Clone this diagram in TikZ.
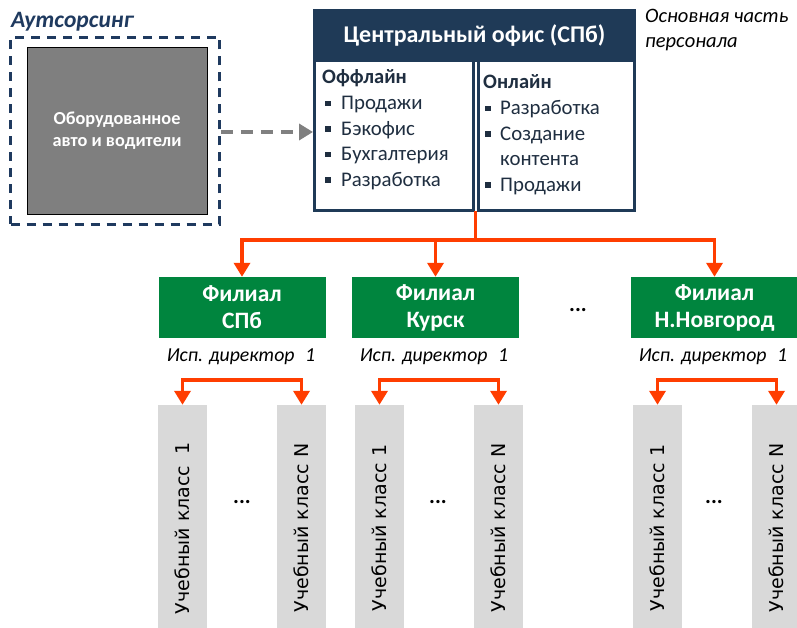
\documentclass[tikz,border=0pt]{standalone}
\usepackage{fontspec}
\setmainfont{Carlito}
\newfontfamily\dvsfont{DejaVu Sans}
\usetikzlibrary{arrows.meta,calc}
\definecolor{navy}{HTML}{1F3A57}
\definecolor{txtnavy}{HTML}{1F2E40}
\definecolor{ttlnavy}{HTML}{1F3A5F}
\definecolor{orgred}{HTML}{FF3D00}
\definecolor{brgreen}{HTML}{00853E}
\definecolor{midgray}{HTML}{7F7F7F}
\definecolor{ltgray}{HTML}{D9D9D9}
\definecolor{arrgray}{HTML}{808080}
\newcommand{\fsz}[2]{\fontsize{#1}{#2}\selectfont}
\begin{document}
\begin{tikzpicture}[x=1pt,y=-1pt,
  outbox/.style={draw=ttlnavy,line width=2.5pt,dash pattern=on 9pt off 7pt,inner sep=0pt},
  carbox/.style={draw=black,line width=0.6pt,fill=midgray,inner sep=0pt,text=white,align=center,font=\bfseries\fsz{18.3}{22}},
  hdr/.style={fill=navy,inner sep=0pt,text=white,font=\bfseries\fsz{24}{28}},
  subbox/.style={draw=navy,line width=3pt,fill=white,inner sep=0pt},
  cat/.style={anchor=base west,inner sep=0pt,text=txtnavy,font=\bfseries\fsz{20.5}{24}},
  itm/.style={anchor=base west,inner sep=0pt,text=txtnavy,font=\fsz{20.8}{24}},
  bulsq/.style={fill=txtnavy,inner sep=0pt,minimum size=5.5pt},
  note/.style={inner sep=0pt,font=\itshape\fsz{20.5}{25.5},align=left},
  filial/.style={fill=brgreen,inner sep=0pt,text=white,align=center,minimum width=167pt,minimum height=61pt,font=\bfseries\fsz{23.5}{27}},
  dirlbl/.style={inner sep=0pt,font=\itshape\fsz{19.8}{22}},
  cls/.style={fill=ltgray,inner sep=0pt,minimum width=49pt,minimum height=223pt},
  clstxt/.style={inner sep=0pt,rotate=90,font=\dvsfont\fsz{19}{22}},
  dots/.style={inner sep=0pt,font=\bfseries\fsz{22}{26}},
  redline/.style={draw=orgred,line width=3.5pt,line join=miter},
  redarrow/.style={redline,-{Triangle[width=16pt,length=14pt]}},
  grayarrow/.style={draw=arrgray,line width=3.5pt,dash pattern=on 12pt off 8pt,-{Triangle[width=16pt,length=14pt]}}
]
\useasboundingbox (0,0) rectangle (797,628);

% Outsourcing
\node[anchor=base west,inner sep=0pt,text=ttlnavy,font=\bfseries\itshape\fsz{23.5}{25}] (outttl) at (11,28) {Аутсорсинг};
\node[outbox,minimum width=209pt,minimum height=187pt] (outb) at (115,131) {};
\node[carbox,minimum width=180pt,minimum height=167pt] (car) at (117,130.5) {Оборудованное\\авто и водители};

% Central office
\node[subbox,minimum width=159pt,minimum height=154pt] (L) at (394,133.5) {};
\node[subbox,minimum width=156pt,minimum height=154pt] (R) at (556.5,133.5) {};
\node[hdr,minimum width=323pt,minimum height=53pt] (H) at (474.5,35.5) {Центральный офис (СПб)};
\node[note,anchor=north west] (main) at (645,9) {Основная часть\\персонала};

% Left list
\node[cat] (lc) at (322,84) {Оффлайн};
\node[itm] (l1) at (341,110) {Продажи};
\node[itm] (l2) at (341,135.5) {Бэкофис};
\node[itm] (l3) at (341,161) {Бухгалтерия};
\node[itm] (l4) at (341,186.5) {Разработка};
\foreach \i/\y in {1/110,2/135.5,3/161,4/186.5}{\node[bulsq] (lb\i) at (328,\y-6.5) {};}

% Right list
\node[cat] (rc) at (483,89) {Онлайн};
\node[itm] (r1) at (500,115) {Разработка};
\node[itm] (r2) at (500,140.5) {Создание};
\node[itm] (r2b) at (500,166) {контента};
\node[itm] (r3) at (500,191.5) {Продажи};
\foreach \i/\y in {1/115,2/140.5,3/191.5}{\node[bulsq] (rb\i) at (488,\y-6.5) {};}

% Outsourcing arrow
\draw[grayarrow] (outb.east |- 0,132) -- (L.west |- 0,132);

% Filials
\node[filial] (f1) at (242,307.5) {Филиал\\СПб};
\node[filial] (f2) at (435.5,307.5) {Филиал\\Курск};
\node[filial] (f3) at (714.5,307.5) {Филиал\\Н.Новгород};
\node[dots] (fdots) at (578,310) {...};

\coordinate (trunk) at (475.5,211);
\coordinate (bar) at (475.5,240);
\draw[redline] (trunk) -- (bar);
\draw[redarrow] (bar) -| (f1.north);
\draw[redarrow] (bar) -| (f2.north);
\draw[redarrow] (bar) -| (f3.north);

% Directors
\node[dirlbl] (d1) at (241,357) {Исп. директор\hspace{0.3em} 1};
\node[dirlbl] (d2) at (434,357) {Исп. директор\hspace{0.3em} 1};
\node[dirlbl] (d3) at (713,357) {Исп. директор\hspace{0.3em} 1};

% Classes
\foreach \n/\cx/\lbl in {c11/182.5/{Учебный класс\hspace{0.3em} 1},c12/301.5/{Учебный класс N},
                          c21/379.5/{Учебный класс 1},c22/498.5/{Учебный класс N},
                          c31/657.5/{Учебный класс 1},c32/776.5/{Учебный класс N}}{
  \node[cls] (\n) at (\cx,516.5) {};
  \node[clstxt] (\n t) at (\cx,528) {\lbl};
}
\node[dots] (cd1) at (242,502) {...};
\node[dots] (cd2) at (438,502) {...};
\node[dots] (cd3) at (714,502) {...};

\coordinate (s1) at (242,380);
\coordinate (s2) at (439,380);
\coordinate (s3) at (717,380);
\draw[redarrow] (s1) -| (c11.north);
\draw[redarrow] (s1) -| (c12.north);
\draw[redarrow] (s2) -| (c21.north);
\draw[redarrow] (s2) -| (c22.north);
\draw[redarrow] (s3) -| (c31.north);
\draw[redarrow] (s3) -| (c32.north);
\end{tikzpicture}
\end{document}
